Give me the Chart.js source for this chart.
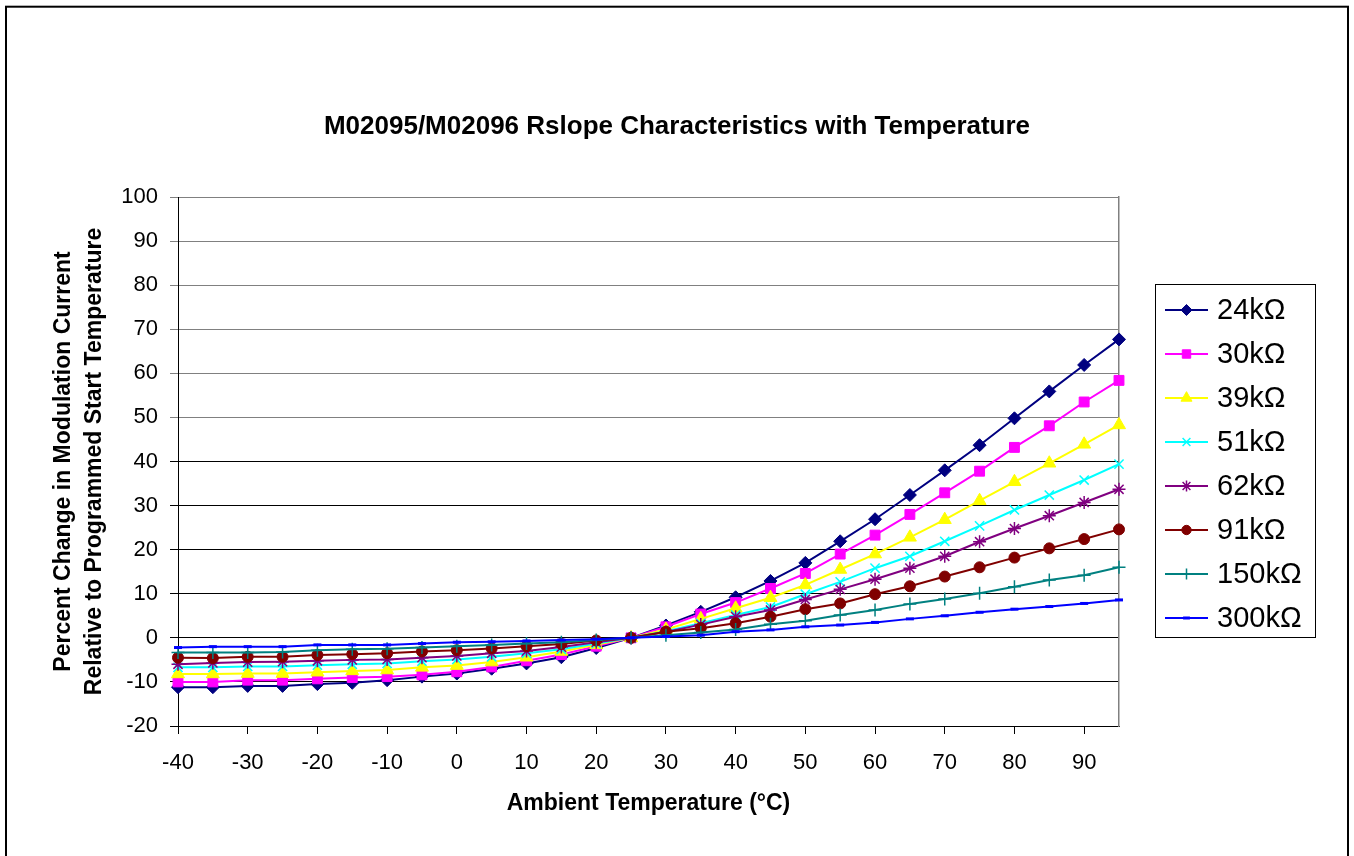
<!DOCTYPE html>
<html>
<head>
<meta charset="utf-8">
<script src="https://cdn.jsdelivr.net/npm/chart.js@4/dist/chart.umd.min.js"></script>
<style>
  html, body { margin: 0; padding: 0; background: #fff; overflow: hidden; }
  canvas { display: block; }
</style>
</head>
<body>
<canvas id="c" width="1354" height="856" style="width:1354px;height:856px"></canvas>
<script>
// ---- data ----
const temps = [-40,-35,-30,-25,-20,-15,-10,-5,0,5,10,15,20,25,30,35,40,45,50,55,60,65,70,75,80,85,90,95,100];
const r24k  = [-11.2,-11.2,-10.9,-10.9,-10.5,-10.2,-9.6,-8.8,-8.1,-7.0,-5.8,-4.4,-2.3,0,2.8,5.9,9.2,12.9,17.0,21.9,26.9,32.4,38.0,43.7,49.8,55.9,61.9,67.7,73.4];
const r30k  = [-10.0,-10.0,-9.6,-9.6,-9.3,-9.0,-8.8,-8.4,-7.7,-6.6,-5.2,-3.8,-1.9,0,2.5,5.4,8.0,11.2,14.6,19.0,23.3,28.0,32.9,37.8,43.2,48.1,53.5,58.4,63.6];
const r39k  = [-8.2,-8.2,-8.1,-8.1,-7.8,-7.5,-7.3,-6.7,-6.3,-5.5,-4.4,-3.1,-1.6,0,1.9,4.3,6.7,9.1,12.0,15.5,19.0,22.8,26.8,31.1,35.4,39.6,43.9,48.3,52.6];
const r51k  = [-6.7,-6.7,-6.5,-6.5,-6.2,-6.0,-5.8,-5.3,-4.9,-4.3,-3.5,-2.6,-1.3,0,1.5,3.3,5.2,7.0,9.9,12.7,15.8,18.5,21.9,25.4,29.0,32.4,35.8,39.4,42.8];
const r62k  = [-6.0,-5.7,-5.5,-5.4,-5.2,-5.0,-4.9,-4.5,-4.1,-3.5,-3.0,-2.1,-1.0,0,1.3,3.0,4.8,6.3,8.7,11.0,13.3,15.8,18.5,21.8,24.8,27.7,30.7,33.7,36.8];
const r91k  = [-4.5,-4.6,-4.3,-4.3,-3.9,-3.7,-3.5,-3.1,-2.8,-2.4,-1.9,-1.4,-0.6,0,1.4,2.2,3.3,4.8,6.5,7.8,9.9,11.7,13.9,16.0,18.2,20.3,22.4,24.6,26.8];
const r150k = [-3.3,-3.3,-3.3,-3.2,-2.8,-2.6,-2.5,-2.2,-1.9,-1.6,-1.3,-1.0,-0.5,0,0.6,1.2,1.9,3.1,3.9,5.2,6.3,7.7,8.8,10.1,11.6,13.1,14.2,16.0,17.6];
const r300k = [-2.2,-2.0,-2.0,-2.0,-1.6,-1.6,-1.6,-1.3,-1.0,-0.9,-0.7,-0.5,-0.3,0,0.3,0.6,1.4,1.8,2.5,2.9,3.5,4.3,5.0,5.8,6.5,7.1,7.8,8.6,9.3];
const seriesNames = ['24kΩ','30kΩ','39kΩ','51kΩ','62kΩ','91kΩ','150kΩ','300kΩ'];
const seriesValues = [r24k, r30k, r39k, r51k, r62k, r91k, r150k, r300k];

const chartTitle = 'M02095/M02096 Rslope Characteristics with Temperature';
const xTitle = 'Ambient Temperature (°C)';
const yTitle = ['Percent Change in Modulation Current', 'Relative to Programmed Start Temperature'];

// ---- styles ----
const colors = ['#000080','#FF00FF','#FFFF00','#00FFFF','#800080','#800000','#008080','#0000FF'];
const markers = ['rectRot','rect','triangle','crossRot','star','circle','cross','line'];
const markerRadius = [6.5, 7, 7.5, 6.5, 6.5, 5.5, 6.5, 4];
const markerBorder = [1, 1, 1, 1.5, 1.5, 1, 1.5, 3];

Chart.defaults.font.family = "'Liberation Sans', Arial, Helvetica, sans-serif";
Chart.defaults.color = '#000';

const datasets = seriesNames.map((name, i) => ({
  label: name,
  data: temps.map((t, j) => ({ x: t, y: seriesValues[i][j] })),
  showLine: true,
  borderColor: colors[i],
  backgroundColor: colors[i],
  pointBackgroundColor: colors[i],
  pointBorderColor: colors[i],
  pointStyle: markers[i],
  pointRadius: markerRadius[i],
  pointHoverRadius: markerRadius[i],
  pointBorderWidth: markerBorder[i],
  borderWidth: 2,
  tension: 0,
  clip: { left: 8, top: 8, right: 7, bottom: 8 },
  order: seriesNames.length - i
}));

const frame = {
  id: 'frame',
  afterDraw(chart) {
    const ctx = chart.ctx;
    ctx.save();
    ctx.strokeStyle = '#000';
    ctx.lineWidth = 2;
    ctx.strokeRect(6, 6.7, chart.width - 12, chart.height + 40);
    ctx.restore();
  }
};

function drawMarker(ctx, style, r, bw, x, y) {
  if (Chart.helpers && Chart.helpers.drawPoint) {
    Chart.helpers.drawPoint(ctx, { pointStyle: style, radius: r, borderWidth: bw, rotation: 0 }, x, y);
  } else {
    ctx.beginPath(); ctx.arc(x, y, r, 0, Math.PI * 2); ctx.fill();
  }
}

const boxLegend = {
  id: 'boxLegend',
  afterDraw(chart) {
    const ctx = chart.ctx;
    const a = chart.chartArea;
    const left = a.right + 36, top = 284, w = 160, h = 353, rowH = 44;
    ctx.save();
    ctx.strokeStyle = '#000';
    ctx.lineWidth = 1;
    ctx.strokeRect(left + 0.5, top + 0.5, w, h);
    ctx.font = "29px 'Liberation Sans', Arial, sans-serif";
    ctx.textBaseline = 'middle';
    ctx.textAlign = 'left';
    chart.data.datasets.forEach((ds, i) => {
      const y = top + 26 + i * rowH;
      ctx.strokeStyle = ds.borderColor;
      ctx.lineWidth = 2;
      ctx.beginPath();
      ctx.moveTo(left + 10, y);
      ctx.lineTo(left + 53, y);
      ctx.stroke();
      ctx.fillStyle = ds.pointBackgroundColor;
      ctx.strokeStyle = ds.pointBorderColor;
      ctx.lineWidth = ds.pointBorderWidth;
      drawMarker(ctx, ds.pointStyle, ds.pointRadius * 0.85, ds.pointBorderWidth, left + 31.5, y);
      ctx.fillStyle = '#000';
      ctx.fillText(ds.label, left + 62, y + 1);
    });
    ctx.restore();
  }
};

const gridColor = (c) => (c.tick && c.tick.value >= 50) ? '#808080' : '#000000';

new Chart(document.getElementById('c'), {
  type: 'scatter',
  data: { datasets },
  plugins: [frame, boxLegend],
  options: {
    responsive: false,
    animation: false,
    events: [],
    layout: { padding: 0 },
    plugins: {
      legend: { display: false },
      tooltip: { enabled: false },
      title: {
        display: true,
        text: chartTitle,
        color: '#000',
        font: { size: 26, weight: 'bold', lineHeight: 1.2 },
        padding: { top: 111.4, bottom: 54.4 }
      }
    },
    scales: {
      x: {
        type: 'linear',
        position: 'bottom',
        min: -40,
        max: 95,
        afterFit(s) { s.height = 130; },
        ticks: { stepSize: 10, includeBounds: false, autoSkip: false, maxRotation: 0,
                 font: { size: 22 }, color: '#000', padding: 16 },
        grid: { drawOnChartArea: false, drawTicks: true, tickLength: 8, color: '#000', lineWidth: 1 },
        border: { color: '#000', width: 1 },
        title: { display: true, text: xTitle, color: '#000',
                 font: { size: 23, weight: 'bold', lineHeight: 1.2 },
                 padding: { top: 0, bottom: 39 } }
      },
      y: {
        type: 'linear',
        position: 'left',
        min: -20,
        max: 100,
        afterFit(s) { s.width = 178; },
        ticks: { stepSize: 10, autoSkip: false, font: { size: 22 }, color: '#000', padding: 12 },
        grid: { color: gridColor, tickColor: gridColor, lineWidth: 1, drawTicks: true, tickLength: 8 },
        border: { color: '#000', width: 1 },
        title: { display: true, text: yTitle, color: '#000',
                 font: { size: 23, weight: 'bold', lineHeight: 1.35 },
                 padding: { top: 48, bottom: 0 } }
      },
      yR: {
        type: 'linear',
        position: 'right',
        afterFit(s) { s.width = 235; },
        ticks: { display: false },
        grid: { display: true, drawOnChartArea: false, drawTicks: false },
        border: { display: true, color: '#808080', width: 1.5 }
      }
    }
  }
});
</script>
</body>
</html>
